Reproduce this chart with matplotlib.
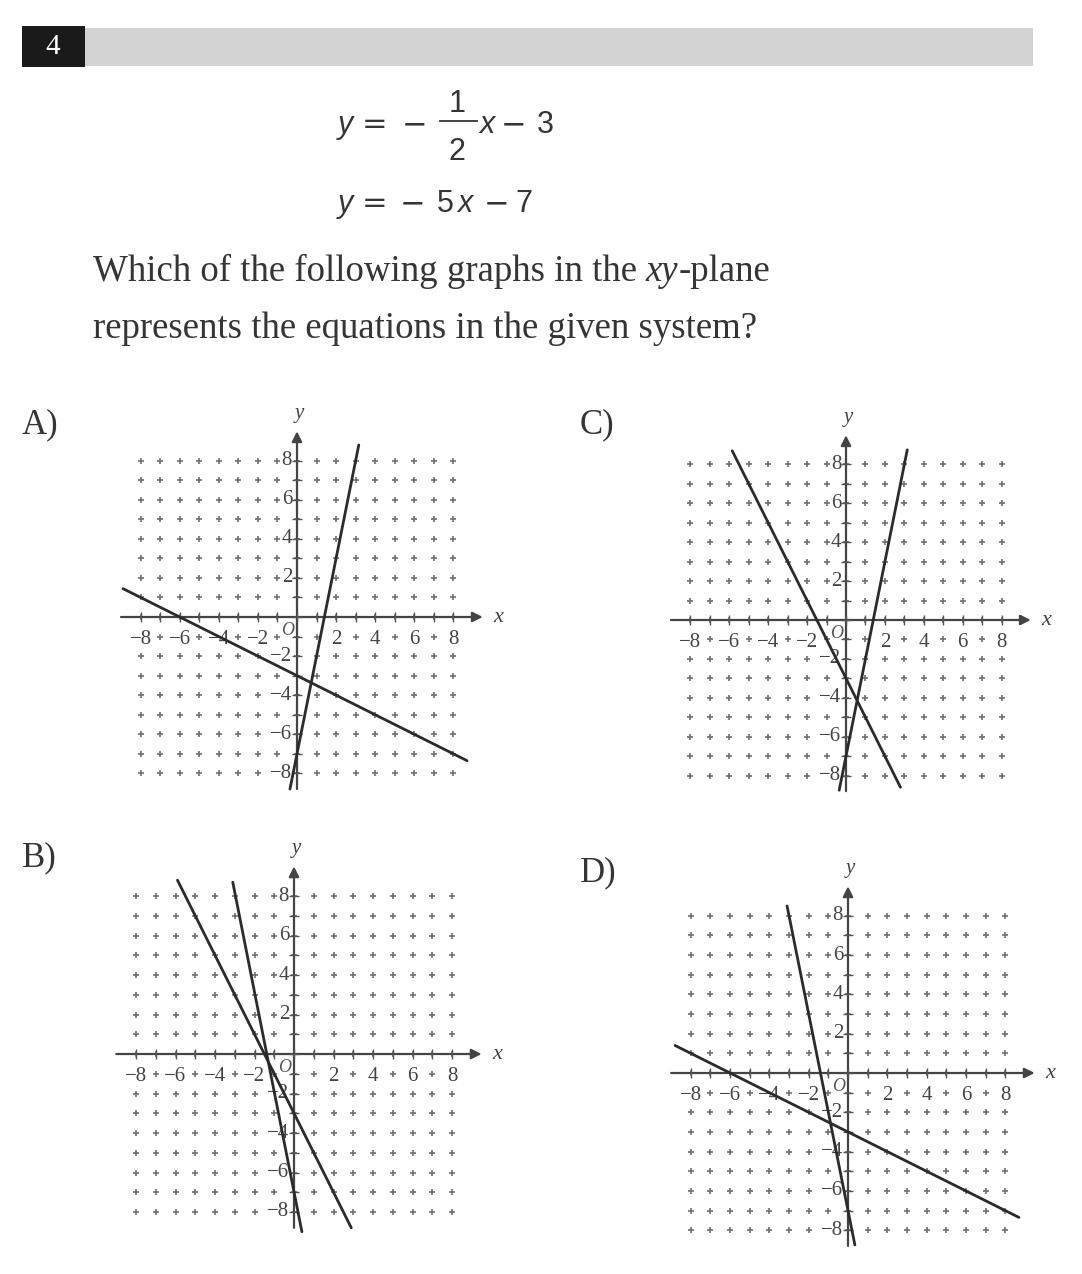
import matplotlib
matplotlib.use('Agg')
import matplotlib.pyplot as plt
from matplotlib.patches import Rectangle

plt.rcParams['font.family'] = 'Liberation Serif'

# data
panel_names = ['A)', 'B)', 'C)', 'D)']
tick_vals = [-8, -6, -4, -2, 2, 4, 6, 8]
tick_labels = ['\u22128', '\u22126', '\u22124', '\u22122', '2', '4', '6', '8']
grid_vals = list(range(-8, 9))

# each panel: two lines, given by their end points
line1_x = [[-8.9, 8.7], [-5.9, 2.9], [-5.85, 2.8], [-8.8, 8.7]]
line1_y = [[1.45, -7.35], [8.8, -8.8], [8.7, -8.6], [1.4, -7.35]]
line2_x = [[-0.36, 3.16], [-3.1, 0.4], [-0.35, 3.15], [-3.1, 0.35]]
line2_y = [[-8.8, 8.8], [8.7, -9.0], [-8.75, 8.75], [8.5, -8.75]]

W, H = 1082, 1274
fig = plt.figure(figsize=(W / 100, H / 100), dpi=100)
txt = '#353535'

# page layer in pixel units
bg = fig.add_axes([0, 0, 1, 1])
bg.set_xlim(0, W)
bg.set_ylim(H, 0)
bg.axis('off')

bg.add_patch(Rectangle((85, 28), 948, 38, color='#d2d2d2', lw=0))
bg.add_patch(Rectangle((22, 26), 63, 41, color='#1a1a1a', lw=0))
bg.text(53, 47, '4', color='white', fontsize=21, ha='center', va='center')


def sans(x, y, s, italic=False, ha='left', family='Liberation Sans'):
    bg.text(x, y, s, family=family, fontsize=22, color=txt,
            style='italic' if italic else 'normal', ha=ha, va='baseline')


def op(x, y, s):
    sans(x, y, s, family='DejaVu Sans')


# y = -1/2 x - 3
sans(338, 133, 'y', True)
op(362, 133, '=')
op(402, 133, '\u2212')
sans(457, 112, '1', ha='center')
bg.plot([440, 477], [121, 121], color=txt, lw=1.3)
sans(457, 160, '2', ha='center')
sans(479, 133, 'x', True)
op(501, 133, '\u2212')
sans(537, 133, '3')
# y = -5x - 7
sans(338, 212, 'y', True)
op(362, 212, '=')
op(400, 212, '\u2212')
sans(437, 212, '5')
sans(457, 212, 'x', True)
op(484, 212, '\u2212')
sans(515, 212, '7')

# question text
fig.canvas.draw()
r = fig.canvas.get_renderer()
qs = 26.5
t1 = bg.text(93, 281, 'Which of the following graphs in the', fontsize=qs,
             color=txt, va='baseline')
x1 = t1.get_window_extent(r).x1 + 8
t2 = bg.text(x1, 281, 'xy', fontsize=qs, color=txt, va='baseline', style='italic')
x2 = t2.get_window_extent(r).x1 + 1
bg.text(x2, 281, '-plane', fontsize=qs, color=txt, va='baseline')
bg.text(93, 338, 'represents the equations in the given system?',
        fontsize=qs, color=txt, va='baseline')

# origin pixel and pixels per unit for each panel
origins = [(297, 617), (294, 1054), (846, 620), (848, 1073)]
scales = [19.55, 19.75, 19.45, 19.65]
label_pos = [(22, 425), (22, 858), (580, 425), (580, 873)]

lim = 11
for i in range(4):
    bg.text(label_pos[i][0], label_pos[i][1], panel_names[i], fontsize=25,
            color=txt, va='center')

    ox, oy = origins[i]
    s = scales[i]
    left = ox - lim * s
    top = oy - lim * s
    size = 2 * lim * s
    ax = fig.add_axes([left / W, 1 - (top + size) / H, size / W, size / H])
    ax.set_xlim(-lim, lim)
    ax.set_ylim(-lim, lim)
    ax.patch.set_alpha(0)
    ax.axis('off')

    # grid crosses
    gx = [x for x in grid_vals for y in grid_vals]
    gy = [y for x in grid_vals for y in grid_vals]
    ax.plot(gx, gy, '+', color='#707070', ms=5, mew=1.2, ls='none')

    box = dict(facecolor='white', edgecolor='none', pad=0.3)
    for v, t in zip(tick_vals, tick_labels):
        ax.text(v, -1.15, t, ha='center', va='center', fontsize=15,
                color='#444444', bbox=box, zorder=3)
        ax.text(-0.25, v, t, ha='right', va='center', fontsize=15,
                color='#444444', bbox=box, zorder=3)
    ax.text(-0.5, -0.7, 'O', ha='center', va='center', fontsize=13,
            style='italic', color='#555555')
    ax.text(0.1, 10.4, 'y', ha='center', va='center', fontsize=15,
            style='italic', color='#444444')
    ax.text(10.3, -0.05, 'x', ha='center', va='center', fontsize=16,
            style='italic', color='#444444')

    # axes with arrows
    ax.annotate('', xy=(9.5, 0), xytext=(-9.0, 0), zorder=4,
                arrowprops=dict(arrowstyle='-|>', color='#444444', lw=1.6,
                                mutation_scale=15, shrinkA=0, shrinkB=0))
    ax.annotate('', xy=(0, 9.5), xytext=(0, -8.8), zorder=4,
                arrowprops=dict(arrowstyle='-|>', color='#444444', lw=1.6,
                                mutation_scale=15, shrinkA=0, shrinkB=0))
    ax.plot(grid_vals, [0] * len(grid_vals), '|', color='#555555', ms=7,
            mew=1, zorder=4)
    ax.plot([0] * len(grid_vals), grid_vals, '_', color='#555555', ms=7,
            mew=1, zorder=4)

    ax.plot(line1_x[i], line1_y[i], color='#2b2b2b', lw=2,
            solid_capstyle='round', zorder=5)
    ax.plot(line2_x[i], line2_y[i], color='#2b2b2b', lw=2,
            solid_capstyle='round', zorder=5)

fig.savefig('out.png', dpi=100)
